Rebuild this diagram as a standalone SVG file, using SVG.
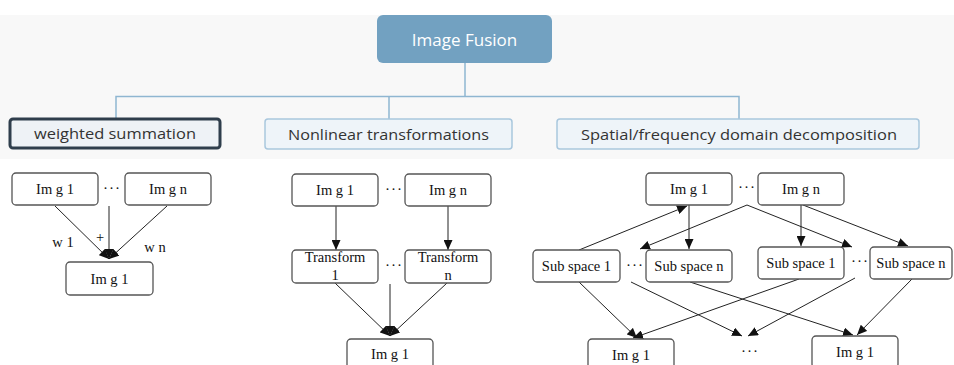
<svg xmlns="http://www.w3.org/2000/svg" width="954" height="365" viewBox="0 0 954 365">
<defs>
<style>
.band{fill:#f8f8f8}
.tl{stroke:#8fb6d1;stroke-width:1.5;fill:none}
.root{fill:#72a1c1}
.rt{font-family:"Open Sans","Noto Sans",sans-serif;font-size:17px;fill:#ffffff;text-anchor:middle}
.cat{fill:#eef4f9;stroke:#a9c7dd;stroke-width:1.5}
.catsel{fill:#eef2f6;stroke:#2f3e4c;stroke-width:3}
.ct{font-family:"Open Sans","Noto Sans",sans-serif;font-size:15px;fill:#333333;text-anchor:middle}
.b{fill:#ffffff;stroke:#555555;stroke-width:1.3}
.t{font-family:"Liberation Serif","Times New Roman",serif;font-size:14.5px;fill:#111111;text-anchor:middle}
.d{font-family:"Liberation Serif","Times New Roman",serif;font-size:15px;fill:#111111;text-anchor:middle;letter-spacing:1px}
.c{stroke:#222222;stroke-width:1;fill:none;marker-end:url(#ah)}
.cn{stroke:#222222;stroke-width:1;fill:none}
</style>
<marker id="ah" markerWidth="10" markerHeight="9" refX="10" refY="4.5" orient="auto" markerUnits="userSpaceOnUse">
<path d="M0,0 L10,4.5 L0,9 z" fill="#111111"/>
</marker>
</defs>
<rect x="0" y="0" width="954" height="365" fill="#ffffff"/>
<rect class="band" x="0" y="15" width="954" height="144"/>

<g id="connectors">
<path class="tl" d="M465,63 V96.5 M116,118 V96.5 H739 V119 M389,96.5 V119"/>
<line class="c" x1="55" y1="206" x2="109" y2="259"/>
<line class="c" x1="109" y1="206" x2="109" y2="259"/>
<line class="c" x1="167" y1="206" x2="109" y2="259"/>
<line class="c" x1="336" y1="206" x2="336" y2="250"/>
<line class="c" x1="448" y1="206" x2="448" y2="250"/>
<line class="c" x1="335" y1="283" x2="390" y2="336"/>
<line class="c" x1="390" y1="284" x2="390" y2="336"/>
<line class="c" x1="447" y1="283" x2="390" y2="336"/>
<line class="c" x1="579" y1="250" x2="687" y2="206"/>
<line class="c" x1="689" y1="205" x2="689" y2="249"/>
<line class="c" x1="747" y1="205" x2="640" y2="249"/>
<line class="c" x1="747" y1="205" x2="852" y2="247"/>
<line class="c" x1="801" y1="205" x2="801" y2="246"/>
<line class="c" x1="803" y1="205" x2="908" y2="246"/>
<line class="c" x1="579" y1="282" x2="637" y2="338"/>
<line class="c" x1="631" y1="282" x2="742" y2="336"/>
<line class="c" x1="690" y1="282" x2="853" y2="335"/>
<line class="c" x1="799" y1="279" x2="633" y2="338"/>
<line class="c" x1="855" y1="278" x2="748" y2="336"/>
<line class="c" x1="912" y1="279" x2="857" y2="335"/>
</g>

<g id="root"><rect class="root" x="377" y="15" width="175" height="48" rx="6"/><text class="rt" x="464.5" y="46">Image Fusion</text></g>
<g id="cat1"><rect class="catsel" x="10" y="119" width="210" height="29" rx="3"/><text class="ct" x="115" y="139" textLength="162" lengthAdjust="spacingAndGlyphs">weighted summation</text></g>
<g id="cat2"><rect class="cat" x="265" y="119" width="247" height="30" rx="3"/><text class="ct" x="388.5" y="139.5" textLength="201" lengthAdjust="spacingAndGlyphs">Nonlinear transformations</text></g>
<g id="cat3"><rect class="cat" x="557" y="119" width="362" height="30" rx="3"/><text class="ct" x="739" y="139.5" textLength="316" lengthAdjust="spacingAndGlyphs">Spatial/frequency domain decomposition</text></g>

<g id="ws-img1"><rect class="b" x="12" y="173" width="86" height="32" rx="4"/><text class="t" x="55" y="194">Im g 1</text></g>
<g id="ws-dots"><text class="d" x="112" y="193">···</text></g>
<g id="ws-imgn"><rect class="b" x="125" y="173" width="86" height="32" rx="4"/><text class="t" x="168" y="194">Im g n</text></g>
<g id="ws-labels"><text class="t" x="63" y="247">w 1</text><text class="t" x="100" y="242">+</text><text class="t" x="155" y="252">w n</text></g>
<g id="ws-out"><rect class="b" x="66" y="262" width="87" height="33" rx="4"/><text class="t" x="109.5" y="284">Im g 1</text></g>

<g id="nl-img1"><rect class="b" x="292" y="174" width="86" height="32" rx="4"/><text class="t" x="335" y="195">Im g 1</text></g>
<g id="nl-dots1"><text class="d" x="394" y="194">···</text></g>
<g id="nl-imgn"><rect class="b" x="405" y="174" width="86" height="32" rx="4"/><text class="t" x="448" y="195">Im g n</text></g>
<g id="nl-t1"><rect class="b" x="292" y="250" width="86" height="33" rx="4"/><text class="t" x="335" y="262">Transform</text><text class="t" x="335" y="280">1</text></g>
<g id="nl-dots2"><text class="d" x="394" y="270">···</text></g>
<g id="nl-tn"><rect class="b" x="405" y="250" width="86" height="33" rx="4"/><text class="t" x="448" y="262">Transform</text><text class="t" x="448" y="280">n</text></g>
<g id="nl-out"><rect class="b" x="347" y="339" width="86" height="32" rx="4"/><text class="t" x="390" y="359">Im g 1</text></g>

<g id="sf-img1"><rect class="b" x="646" y="173" width="86" height="32" rx="4"/><text class="t" x="689" y="194">Im g 1</text></g>
<g id="sf-dots1"><text class="d" x="747" y="192">···</text></g>
<g id="sf-imgn"><rect class="b" x="758" y="173" width="86" height="32" rx="4"/><text class="t" x="801" y="194">Im g n</text></g>
<g id="sf-s1a"><rect class="b" x="533" y="250" width="87" height="32" rx="4"/><text class="t" x="576.5" y="271">Sub space 1</text></g>
<g id="sf-dots2"><text class="d" x="635" y="270">···</text></g>
<g id="sf-sna"><rect class="b" x="646" y="250" width="86" height="32" rx="4"/><text class="t" x="689" y="271">Sub space n</text></g>
<g id="sf-s1b"><rect class="b" x="758" y="247" width="86" height="32" rx="4"/><text class="t" x="801" y="268">Sub space 1</text></g>
<g id="sf-dots3"><text class="d" x="860" y="266">···</text></g>
<g id="sf-snb"><rect class="b" x="870" y="247" width="82" height="32" rx="4"/><text class="t" x="911" y="268">Sub space n</text></g>
<g id="sf-out1"><rect class="b" x="588" y="339" width="86" height="32" rx="4"/><text class="t" x="631" y="360">Im g 1</text></g>
<g id="sf-dots4"><text class="d" x="750" y="356">···</text></g>
<g id="sf-out2"><rect class="b" x="812" y="336" width="86" height="32" rx="4"/><text class="t" x="855" y="357">Im g 1</text></g>
</svg>
